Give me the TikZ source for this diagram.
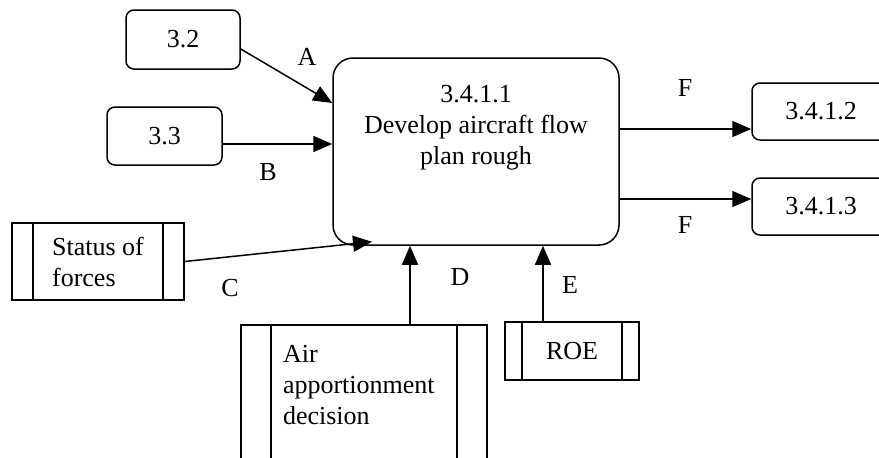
\documentclass[tikz,border=0pt]{standalone}
\usepackage{fontspec}
\setmainfont{Liberation Serif}
\usetikzlibrary{shapes,arrows.meta,positioning}

\begin{document}
\begin{tikzpicture}[x=1pt, y=-1pt, line width=1.5pt, >={Triangle[length=19pt,width=16pt]}]

\tikzstyle{every node}=[font=\fontsize{26}{31}\selectfont]
\tikzstyle{activity}=[draw, rounded corners=8pt, inner sep=0]
\tikzstyle{store}=[draw, inner sep=0, path picture={
  \draw[line width=1.5pt] ([xshift=#1]path picture bounding box.north west) -- ([xshift=#1]path picture bounding box.south west)
  ([xshift=-#1]path picture bounding box.north east) -- ([xshift=-#1]path picture bounding box.south east);}]

\useasboundingbox (0,0) rectangle (879,458);
\clip (0,0) rectangle (879,458);

\node[activity, minimum width=114pt, minimum height=59pt] (src32) at (183,39.5) {3.2};
\node[activity, minimum width=115pt, minimum height=58pt] (src33) at (164.5,136) {3.3};
\node[activity, rounded corners=20pt, minimum width=286pt, minimum height=187pt] (plan) at (476,151.5) {};
\node[align=center, anchor=north, inner sep=0] (plantext) at ([yshift=-27pt]plan.north) {3.4.1.1\\Develop aircraft flow\\plan rough};
\node[activity, minimum width=138pt, minimum height=57pt] (dst412) at (821,111.5) {3.4.1.2};
\node[activity, minimum width=138pt, minimum height=57pt] (dst413) at (821,206.5) {3.4.1.3};
\node[store=21pt, minimum width=172pt, minimum height=77pt, align=left] (forces) at (98,261.5) {Status of\\forces};
\node[store=30pt, minimum width=246pt, minimum height=175pt] (apport) at (364,412.5) {};
\node[align=left, anchor=north west, inner sep=0] (apporttext) at ([xshift=42pt,yshift=-20pt]apport.north west) {Air\\apportionment\\decision};
\node[store=17pt, minimum width=134pt, minimum height=58pt] (roe) at (572,351) {ROE};

% flow labels
\node (labA) at (307,57) {A};
\node (labB) at (268,172) {B};
\node (labC) at (230,288) {C};
\node (labD) at (460,277) {D};
\node (labE) at (570,285) {E};
\node (labF1) at (685,88) {F};
\node (labF2) at (685,225) {F};

\path[->]
([yshift=-9.5pt]src32.east) edge ([yshift=48.5pt]plan.west)
([yshift=-8pt]src33.east) edge ([yshift=-8pt]src33.east -| plan.west)
(forces.east) edge ([xshift=-104pt,yshift=4pt]plan.south)
([xshift=46pt]apport.north) edge ([xshift=46pt]apport.north |- plan.south)
([xshift=-29pt]roe.north) edge ([xshift=-29pt]roe.north |- plan.south)

([yshift=22.5pt]plan.east) edge ([yshift=22.5pt]plan.east -| dst412.west)
([yshift=-47.5pt]plan.east) edge ([yshift=-47.5pt]plan.east -| dst413.west);
\end{tikzpicture}
\end{document}
